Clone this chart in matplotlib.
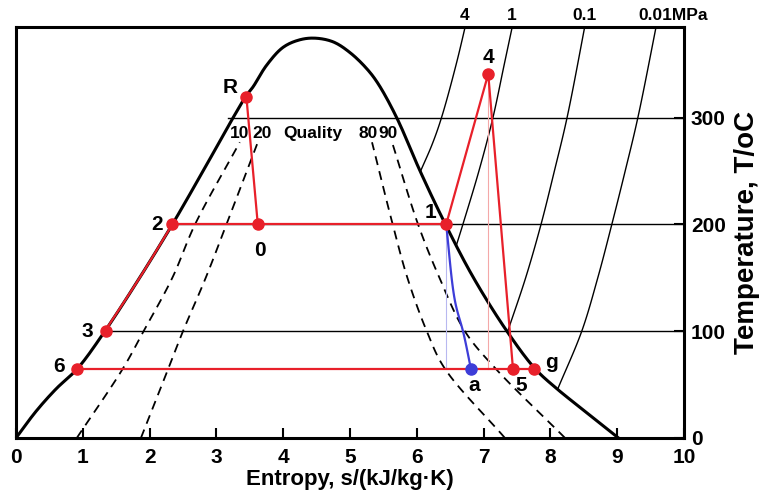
import numpy as np
import matplotlib
matplotlib.use('Agg')
import matplotlib.pyplot as plt

plt.rcParams['font.family'] = ['Liberation Sans', 'DejaVu Sans']
plt.rcParams['font.weight'] = 'bold'

# saturation dome
liq_T = [0, 25, 46, 65, 100, 150, 200, 250, 300, 320, 329, 349, 366, 373]
liq_s = [0, 0.30, 0.60, 0.92, 1.33, 1.85, 2.34, 2.80, 3.25, 3.44, 3.55, 3.75, 4.00, 4.25]
peak_s, peak_T = 4.48, 374.5
vap_T = [371, 361, 346, 332, 300, 250, 200, 150, 100, 65, 46, 23, 0]
vap_s = [4.75, 5.00, 5.25, 5.42, 5.70, 6.05, 6.43, 6.85, 7.35, 7.77, 8.10, 8.56, 9.02]

# constant quality lines (10, 20, 80, 90 %)
q_T = [0, 65, 100, 150, 200, 277]
q10 = [0.91, 1.60, 1.91, 2.34, 2.68, 3.35]
q20 = [1.87, 2.28, 2.50, 2.84, 3.15, 3.62]
q80 = [7.32, 6.42, 6.15, 5.86, 5.64, 5.33]
q90 = [8.22, 7.18, 6.72, 6.34, 6.02, 5.63]

# isobars
p4_T = [250.4, 275, 300, 350, 400]
p4_s = [6.06, 6.23, 6.37, 6.59, 6.78]
p1_T = [179.9, 200, 250, 300, 350, 400]
p1_s = [6.59, 6.69, 6.93, 7.14, 7.31, 7.48]
p01_T = [99.6, 150, 200, 250, 300, 400]
p01_s = [7.36, 7.63, 7.86, 8.06, 8.25, 8.56]
p001_T = [45.8, 100, 150, 200, 250, 300, 400]
p001_s = [8.11, 8.47, 8.71, 8.92, 9.12, 9.31, 9.63]
p_labels = ['4', '1', '0.1', '0.01MPa']

# cycle state points
pts = {
    'R': (3.45, 319), '0': (3.62, 200), '2': (2.34, 200), '1': (6.44, 200),
    '3': (1.35, 100), '6': (0.92, 65), '4': (7.07, 341), '5': (7.44, 65),
    'g': (7.76, 65), 'a': (6.81, 65),
}
lbl_pos = {
    'R': (3.20, 328), '2': (2.11, 200), '0': (3.65, 176), '1': (6.20, 211),
    '3': (1.06, 100), '6': (0.65, 67), '4': (7.07, 356), 'a': (6.86, 49),
    '5': (7.56, 49), 'g': (8.02, 71),
}
# expansion 1 -> a (blue)
exp_s = [6.44, 6.57, 6.70, 6.81]
exp_T = [200, 129, 98, 65]

RED = '#e8202a'
BLUE = '#3d3dd8'
SX, SY = 66.8, 1.07   # px per unit, used only to smooth curves evenly


def smooth(s, T, n=16):
    # centripetal Catmull-Rom through the read points
    P = np.column_stack([np.asarray(s, float) * SX, np.asarray(T, float) * SY])
    P = np.vstack([2 * P[0] - P[1], P, 2 * P[-1] - P[-2]])
    out = []
    for i in range(len(P) - 3):
        p0, p1, p2, p3 = P[i:i + 4]
        t0 = 0.0
        t1 = t0 + np.linalg.norm(p1 - p0) ** 0.5 + 1e-9
        t2 = t1 + np.linalg.norm(p2 - p1) ** 0.5 + 1e-9
        t3 = t2 + np.linalg.norm(p3 - p2) ** 0.5 + 1e-9
        t = np.linspace(t1, t2, n, endpoint=False)[:, None]
        a1 = (t1 - t) / (t1 - t0) * p0 + (t - t0) / (t1 - t0) * p1
        a2 = (t2 - t) / (t2 - t1) * p1 + (t - t1) / (t2 - t1) * p2
        a3 = (t3 - t) / (t3 - t2) * p2 + (t - t2) / (t3 - t2) * p3
        b1 = (t2 - t) / (t2 - t0) * a1 + (t - t0) / (t2 - t0) * a2
        b2 = (t3 - t) / (t3 - t1) * a2 + (t - t1) / (t3 - t1) * a3
        out.append((t2 - t) / (t2 - t1) * b1 + (t - t1) / (t2 - t1) * b2)
    out.append(P[-2][None])
    C = np.vstack(out)
    return C[:, 0] / SX, C[:, 1] / SY


fig = plt.figure(figsize=(7.59, 5.04), dpi=100)
ax = fig.add_axes([0.0211, 0.131, 0.880, 0.8155])
ax.set_xlim(0, 10)
ax.set_ylim(0, 385)

# isotherms
ax.plot([3.17, 10], [300, 300], color='k', lw=1)
ax.plot([pts['2'][0], 10], [200, 200], color='k', lw=1)
ax.plot([pts['3'][0], 10], [100, 100], color='k', lw=1)

# isobars
for s, T in [(p4_s, p4_T), (p1_s, p1_T), (p01_s, p01_T), (p001_s, p001_T)]:
    ax.plot(*smooth(s, T), color='k', lw=1)
top = 385
for lab, s, T in zip(p_labels, [p4_s, p1_s, p01_s, p001_s], [p4_T, p1_T, p01_T, p001_T]):
    xs = np.interp(top, T, s)
    if lab.endswith('MPa'):
        ax.text(xs - 0.27, 396, lab, ha='left', va='center', fontsize=12.5, clip_on=False)
    else:
        ax.text(xs, 396, lab, ha='center', va='center', fontsize=12.5, clip_on=False)

# dome
dome_s = liq_s + [peak_s] + vap_s
dome_T = liq_T + [peak_T] + vap_T
ax.plot(*smooth(dome_s, dome_T), color='k', lw=2.2)

# quality lines
for q in [q10, q20, q80, q90]:
    ax.plot(*smooth(q, q_T), color='k', lw=1.3, dashes=(5, 3.5))
for lab, x in [('10', 3.35), ('20', 3.68), ('Quality', 4.45), ('80', 5.27), ('90', 5.57)]:
    ax.text(x, 285, lab, ha='center', va='center', fontsize=12.5)

# thin guide verticals
ax.plot([pts['1'][0]] * 2, [200, 65], color='#b8b8f0', lw=0.8)
ax.plot([pts['4'][0]] * 2, [pts['4'][1], 65], color='#f4a8a8', lw=0.8)

# cycle (red)
seg_s = [s for s, T in zip(liq_s, liq_T) if 100 <= T <= 200]
seg_T = [T for T in liq_T if 100 <= T <= 200]
ax.plot(*smooth(seg_s, seg_T), color=RED, lw=1.6)
ax.plot([pts['R'][0], pts['0'][0]], [pts['R'][1], pts['0'][1]], color=RED, lw=1.6)
ax.plot([pts['2'][0], pts['1'][0]], [200, 200], color=RED, lw=1.6)
ax.plot([pts['1'][0], pts['4'][0], pts['5'][0]],
        [pts['1'][1], pts['4'][1], pts['5'][1]], color=RED, lw=1.6)
ax.plot([pts['6'][0], pts['g'][0]], [65, 65], color=RED, lw=1.6)
ax.plot(*smooth(exp_s, exp_T), color=BLUE, lw=1.6)

for k, (s, T) in pts.items():
    c = BLUE if k == 'a' else RED
    ax.plot(s, T, 'o', color=c, ms=8, zorder=5)
for k, (s, T) in lbl_pos.items():
    ax.text(s, T, k, ha='center', va='center', fontsize=15)

ax.set_xticks(range(0, 11))
ax.set_yticks([0, 100, 200, 300])
ax.yaxis.tick_right()
ax.yaxis.set_label_position('right')
ax.tick_params(axis='x', direction='in', length=7, width=1.5, pad=7, labelsize=15)
ax.tick_params(axis='y', direction='in', length=7, width=1.5, pad=5, labelsize=15)
for sp in ax.spines.values():
    sp.set_linewidth(2.2)
ax.set_xlabel('Entropy, s/(kJ/kg·K)', fontsize=16, fontweight='bold', labelpad=2)
ax.set_ylabel('Temperature, T/oC', fontsize=20, fontweight='bold', labelpad=6)

fig.savefig('out.png', dpi=100)
